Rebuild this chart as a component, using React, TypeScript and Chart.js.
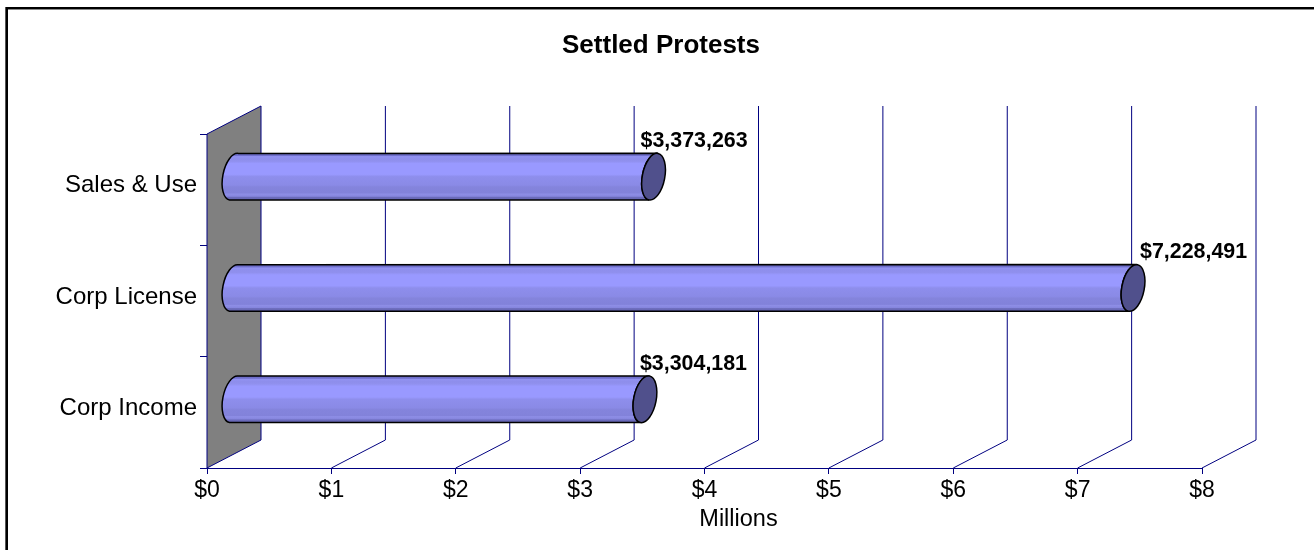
import React, { useEffect, useRef } from "react";
import { Chart, registerables } from "chart.js";

Chart.register(...registerables);

const categories = ["Sales & Use", "Corp License", "Corp Income"];
const settledValues = [3373263, 7228491, 3304181];
const valueLabels = ["$3,373,263", "$7,228,491", "$3,304,181"];
const chartTitle = "Settled Protests";
const axisTitle = "Millions";
const axisMax = 8000000;
const tickStep = 1000000;

const FONT = '"Liberation Sans", Arial, sans-serif';
const GRID = "#000080";
const DEPTH_X = 54;
const DEPTH_Y = 28;
const LABEL_SHIFTS = [14, 34, 22];

const BODY_BANDS: [number, string][] = [
  [0, "#6a6ac4"],
  [0.05, "#7070cc"],
  [0.07, "#9292f2"],
  [0.12, "#8e8eec"],
  [0.17, "#9090ee"],
  [0.22, "#9999ff"],
  [0.45, "#9999ff"],
  [0.5, "#8e8eec"],
  [0.68, "#8a8ae6"],
  [0.72, "#8484dc"],
  [0.85, "#8282da"],
  [0.87, "#8e8ee6"],
  [0.92, "#8686de"],
  [0.94, "#6c6cbc"],
  [1, "#6464b0"],
];

function fillBody(ctx: CanvasRenderingContext2D, top: number, h: number) {
  const g = ctx.createLinearGradient(0, top, 0, top + h);
  BODY_BANDS.forEach(([s, c]) => g.addColorStop(s, c));
  return g;
}

const depthPlugin = {
  id: "depth",
  beforeDatasetsDraw(chart: any) {
    const { ctx, scales, chartArea } = chart;
    const x = scales.x;
    const { top, bottom } = chartArea;
    ctx.save();
    ctx.lineWidth = 1;
    ctx.strokeStyle = GRID;
    const x0 = x.getPixelForValue(0);
    ctx.beginPath();
    ctx.moveTo(x0, top);
    ctx.lineTo(x0 + DEPTH_X, top - DEPTH_Y);
    ctx.lineTo(x0 + DEPTH_X, bottom - DEPTH_Y);
    ctx.lineTo(x0, bottom);
    ctx.closePath();
    ctx.fillStyle = "#808080";
    ctx.fill();
    ctx.stroke();
    for (let v = tickStep; v <= axisMax; v += tickStep) {
      const px = x.getPixelForValue(v);
      ctx.beginPath();
      ctx.moveTo(px, bottom);
      ctx.lineTo(px + DEPTH_X, bottom - DEPTH_Y);
      ctx.lineTo(px + DEPTH_X, top - DEPTH_Y);
      ctx.stroke();
    }
    ctx.restore();
  },
  beforeDatasetDraw(chart: any, args: any) {
    const { ctx, scales } = chart;
    const meta = chart.getDatasetMeta(args.index);
    const x0 = scales.x.getPixelForValue(0);
    const dx = DEPTH_X / 2;
    const dy = 13;
    const rot = (11 * Math.PI) / 180;
    ctx.save();
    meta.data.forEach((bar: any) => {
      const h = bar.height;
      const cy = bar.y - dy;
      const top = cy - h / 2;
      const startX = x0 + dx;
      const endX = bar.x + dx;
      const rx = h * 0.24;
      const ry = h * 0.506;
      ctx.lineWidth = 1.5;
      ctx.strokeStyle = "#000000";
      ctx.beginPath();
      ctx.ellipse(startX, cy, rx, ry, rot, Math.PI * 0.5, Math.PI * 1.5);
      ctx.lineTo(endX + 3.5, top);
      ctx.ellipse(endX, cy, rx, ry, rot, -Math.PI * 0.5, Math.PI * 0.5, true);
      ctx.closePath();
      ctx.fillStyle = fillBody(ctx, top, h);
      ctx.fill();
      ctx.stroke();
      ctx.beginPath();
      ctx.ellipse(endX, cy, rx, ry, rot, 0, Math.PI * 2);
      ctx.fillStyle = "#50508c";
      ctx.fill();
      ctx.stroke();
    });
    ctx.restore();
    return false;
  },
  afterDatasetsDraw(chart: any) {
    const { ctx, scales, chartArea } = chart;
    const meta = chart.getDatasetMeta(0);
    ctx.save();
    ctx.fillStyle = "#000000";
    ctx.textBaseline = "middle";
    ctx.textAlign = "left";
    ctx.font = `bold 21.4px ${FONT}`;
    meta.data.forEach((bar: any, i: number) => {
      ctx.fillText(valueLabels[i], bar.x + LABEL_SHIFTS[i], bar.y - 48.5);
    });
    ctx.textAlign = "center";
    ctx.font = `bold 26px ${FONT}`;
    ctx.fillText(chartTitle, 661, 46);
    ctx.font = `23.5px ${FONT}`;
    ctx.fillText(axisTitle, (chartArea.left + scales.x.right) / 2 + 34, 519.5);
    ctx.restore();
  },
};

export default function App() {
  const ref = useRef<HTMLCanvasElement>(null);
  useEffect(() => {
    document.body.style.margin = "0";
    const chart = new Chart(ref.current as HTMLCanvasElement, {
      type: "bar",
      data: {
        labels: categories,
        datasets: [
          {
            label: chartTitle,
            data: settledValues,
            backgroundColor: "#9999ff",
            borderColor: "#000000",
            barPercentage: 1,
            categoryPercentage: 0.42,
          },
        ],
      },
      options: {
        indexAxis: "y",
        responsive: false,
        animation: false,
        layout: { padding: { left: 0, top: 134, right: 112, bottom: 0 } },
        plugins: { legend: { display: false }, tooltip: { enabled: false } },
        scales: {
          x: {
            min: 0,
            max: axisMax,
            afterFit: (s: any) => {
              s.height = 82;
            },
            ticks: {
              stepSize: tickStep,
              maxRotation: 0,
              padding: 3,
              color: "#000000",
              font: { family: FONT, size: 23 },
              callback: (v: any) => "$" + Number(v) / tickStep,
            },
            grid: { drawOnChartArea: false, color: GRID, tickLength: 6, tickColor: GRID },
            border: { color: GRID, width: 1 },
          },
          y: {
            afterFit: (s: any) => {
              s.width = 207;
            },
            ticks: {
              padding: 3,
              labelOffset: -4,
              color: "#000000",
              font: { family: FONT, size: 24 },
            },
            grid: { offset: true, drawOnChartArea: false, color: GRID, tickLength: 7, tickColor: GRID },
            border: { color: GRID, width: 1 },
          },
        },
      },
      plugins: [depthPlugin],
    } as any);
    return () => chart.destroy();
  }, []);
  return (
    <div
      style={{
        position: "relative",
        width: 1314,
        height: 550,
        background: "#fff",
        overflow: "hidden",
      }}
    >
      <canvas ref={ref} width={1314} height={550} style={{ display: "block" }} />
      <div style={{ position: "absolute", left: 5, top: 7, right: 0, height: 2, background: "#000" }} />
      <div style={{ position: "absolute", left: 7, top: 9, right: 0, height: 1, background: "#888" }} />
      <div style={{ position: "absolute", left: 5, top: 7, bottom: 0, width: 1, background: "#555" }} />
      <div style={{ position: "absolute", left: 6, top: 7, bottom: 0, width: 1.5, background: "#000" }} />
    </div>
  );
}
